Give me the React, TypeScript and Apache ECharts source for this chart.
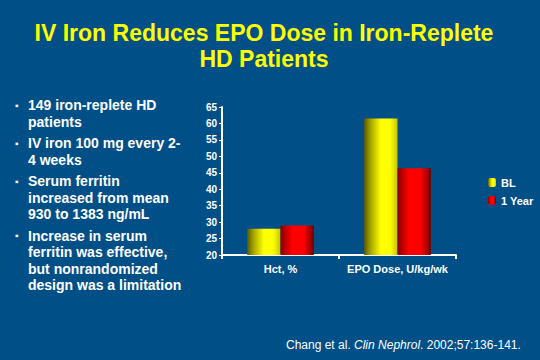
import React, { useEffect, useRef } from "react";
import * as echarts from "echarts";

const categories = ["Hct, %", "EPO Dose, U/kg/wk"];
const blValues = [28, 61.5];
const yearValues = [29, 46.4];
const seriesNames = ["BL", "1 Year"];
const titleLines = ["IV Iron Reduces EPO Dose in Iron-Replete", "HD Patients"];
const bullets = [
  ["149 iron-replete HD", "patients"],
  ["IV iron 100 mg every 2-", "4 weeks"],
  ["Serum ferritin", "increased from mean", "930 to 1383 ng/mL"],
  ["Increase in serum", "ferritin was effective,", "but nonrandomized", "design was a limitation"],
];

const FONT = "'Liberation Sans', Arial, sans-serif";

export default function App() {
  const ref = useRef<HTMLDivElement>(null);
  useEffect(() => {
    if (!ref.current) return;
    const chart = echarts.init(ref.current, null, { renderer: "svg" });
    const yellow = new echarts.graphic.LinearGradient(0, 0, 1, 0, [
      { offset: 0, color: "#5a5a00" },
      { offset: 0.2, color: "#a8a800" },
      { offset: 0.5, color: "#ffff00" },
      { offset: 0.78, color: "#ffff00" },
      { offset: 1, color: "#c4c400" },
    ]);
    const red = new echarts.graphic.LinearGradient(0, 0, 1, 0, [
      { offset: 0, color: "#8a0000" },
      { offset: 0.35, color: "#ff0000" },
      { offset: 0.7, color: "#ff0000" },
      { offset: 1, color: "#700000" },
    ]);
    const bulletElems: any[] = [];
    let y = 97;
    bullets.forEach((lines) => {
      bulletElems.push({
        type: "text",
        left: 15,
        top: y + 3,
        style: { text: "▪", fill: "#ffffff", font: `bold 10px ${FONT}` },
      });
      bulletElems.push({
        type: "text",
        left: 28,
        top: y,
        style: {
          text: lines.join("\n"),
          fill: "#ffffff",
          font: `bold 14px ${FONT}`,
          lineHeight: 16.5,
        },
      });
      y += lines.length * 16.5 + 5;
    });
    chart.setOption({
      animation: false,
      backgroundColor: "#004f87",
      title: {
        text: titleLines.join("\n"),
        left: 259,
        textAlign: "center",
        top: 15,
        textStyle: {
          color: "#ffff00",
          fontFamily: FONT,
          fontWeight: "bold",
          fontSize: 23,
          lineHeight: 26,
          textShadowColor: "#000000",
          textShadowOffsetX: 2,
          textShadowOffsetY: 2,
          textShadowBlur: 0,
        },
      },
      legend: {
        orient: "vertical",
        left: 483,
        top: 172,
        itemWidth: 8,
        itemHeight: 9,
        itemGap: 7,
        data: seriesNames,
        textStyle: { color: "#ffffff", fontFamily: FONT, fontWeight: "bold", fontSize: 11 },
      },
      grid: { left: 222, right: 84, top: 107, bottom: 105 },
      xAxis: {
        type: "category",
        data: categories,
        axisLine: { lineStyle: { color: "#ffffff", width: 2 } },
        axisTick: { show: true, length: 4, lineStyle: { color: "#ffffff", width: 2 } },
        axisLabel: { color: "#ffffff", fontFamily: FONT, fontWeight: "bold", fontSize: 11, margin: 8, interval: 0 },
      },
      yAxis: {
        type: "value",
        min: 20,
        max: 65,
        interval: 5,
        splitLine: { show: false },
        axisLine: { show: true, lineStyle: { color: "#ffffff", width: 2 } },
        axisTick: { show: true, length: 3, lineStyle: { color: "#ffffff", width: 1 } },
        axisLabel: { color: "#ffffff", fontFamily: FONT, fontWeight: "bold", fontSize: 10, margin: 5 },
      },
      series: [
        {
          name: seriesNames[0],
          type: "bar",
          data: blValues,
          barGap: "0%",
          barCategoryGap: "43%",
          itemStyle: { color: yellow },
        },
        {
          name: seriesNames[1],
          type: "bar",
          data: yearValues,
          barGap: "0%",
          barCategoryGap: "43%",
          itemStyle: { color: red },
        },
      ],
      graphic: [
        ...bulletElems,
        {
          type: "text",
          left: 286,
          top: 339,
          style: {
            text: "Chang et al. {i|Clin Nephrol}. 2002;57:136-141.",
            fill: "#ffffff",
            font: `12px ${FONT}`,
            rich: { i: { fontStyle: "italic", fontFamily: FONT, fontSize: 12, fill: "#ffffff" } },
          },
        },
      ],
    });
    return () => chart.dispose();
  }, []);
  return <div ref={ref} style={{ position: "fixed", left: 0, top: 0, width: 540, height: 360 }} />;
}
